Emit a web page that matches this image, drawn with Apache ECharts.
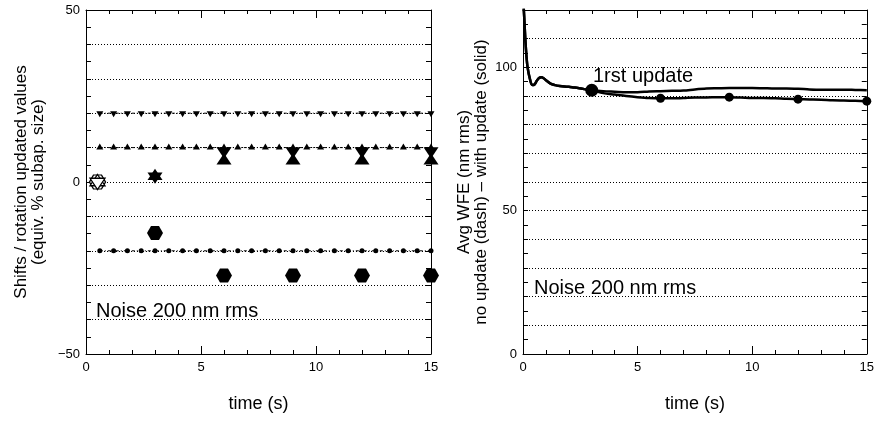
<!DOCTYPE html>
<html><head><meta charset="utf-8">
<script src="https://cdn.jsdelivr.net/npm/echarts@6/dist/echarts.min.js"></script>
<style>html,body{margin:0;padding:0;background:#fff}#c{width:877px;height:421px}</style>
</head><body><div id="c"></div>
<script>
// ---- Left panel data ----
const refTime = [0.6,1.2,1.8,2.4,3.0,3.6,4.2,4.8,5.4,6.0,6.6,7.2,7.8,8.4,9.0,9.6,10.2,10.8,11.4,12.0,12.6,13.2,13.8,14.4,15.0];
const refShiftX = [10,10,10,10,10,10,10,10,10,10,10,10,10,10,10,10,10,10,10,10,10,10,10,10,10];
const refShiftY = [20,20,20,20,20,20,20,20,20,20,20,20,20,20,20,20,20,20,20,20,20,20,20,20,20];
const refRot = [-20,-20,-20,-20,-20,-20,-20,-20,-20,-20,-20,-20,-20,-20,-20,-20,-20,-20,-20,-20,-20,-20,-20,-20,-20];
const updTime = [0.5, 3, 6, 9, 12, 15];
const estShiftX = [0, 1.7, 6.2, 6.2, 6.2, 6.2];
const estShiftY = [0, 1.7, 9.0, 9.0, 9.0, 9.0];
const estRot = [0, -14.8, -27.2, -27.2, -27.2, -27.2];

// ---- Right panel data ----
const wfeTimeEarly = [0,0.05,0.1,0.15,0.2,0.3,0.4,0.5,0.6,0.7,0.8,0.9,1.0,1.2,1.4,1.6,1.8,2.0,2.2,2.4,2.6,2.8];
const wfeEarly = [125,118,110,104,100,96,93.8,94,95.3,96.3,96.5,96.2,95.5,94.3,93.8,93.5,93.3,93.2,93.0,92.8,92.5,92.2];
const wfeTimeLate = [3.0,3.5,4.0,4.5,5.0,5.5,6.0,6.5,7.0,7.5,8.0,8.5,9.0,9.5,10,10.5,11,11.5,12,12.5,13,13.5,14,14.5,15];
const wfeNoUpdate = [92.0,91.7,91.5,91.3,91.3,91.6,91.7,91.8,91.9,92.3,92.6,92.7,92.8,92.8,92.8,92.7,92.6,92.6,92.5,92.3,92.2,92.2,92.2,92.1,92.0];
const wfeWithUpdate = [92.0,91.0,90.5,90.0,89.6,89.3,89.2,89.2,89.3,89.5,89.5,89.6,89.6,89.5,89.3,89.3,89.2,89.0,88.9,88.8,88.7,88.5,88.4,88.3,88.2];
const markTime = [3, 6, 9, 12, 15];
const markWfe = [92.0, 89.2, 89.6, 88.9, 88.2];

const FONT = "'Liberation Sans', Arial, Helvetica, sans-serif";
const zip = (xs, ys) => xs.map((x, i) => [x, ys[i]]);
const hexPath = 'path://M-1,0 L-0.5,-0.866 L0.5,-0.866 L1,0 L0.5,0.866 L-0.5,0.866 Z';
// triangles centred on their centroid (extra moveTo pads the bounding box)
const triUp = 'path://M0,1 M0,-1 L1,0.5 L-1,0.5 Z';
const triDown = 'path://M0,-1 M-1,-0.5 L1,-0.5 L0,1 Z';

function xAx(gi, pos, labels) {
  return {
    type: 'value', gridIndex: gi, position: pos, min: 0, max: 15, interval: 5,
    axisLine: {show: true, onZero: false, lineStyle: {color: '#000', width: 1}},
    axisTick: {show: true, inside: true, length: 8, lineStyle: {color: '#000'}},
    minorTick: {show: true, splitNumber: 5, length: 4, lineStyle: {color: '#000'}},
    axisLabel: {show: labels, color: '#000', fontFamily: FONT, fontSize: 13, margin: 7},
    splitLine: {show: false},
    name: labels ? 'time (s)' : '', nameLocation: 'middle', nameGap: 41,
    nameTextStyle: {color: '#000', fontFamily: FONT, fontSize: 18}
  };
}
function yAx(gi, pos, min, max, labels, shown, name, gap) {
  return {
    type: 'value', gridIndex: gi, position: pos, min: min, max: max, interval: 10,
    axisLine: {show: true, onZero: false, lineStyle: {color: '#000', width: 1}},
    axisTick: {show: true, inside: true, length: 5, lineStyle: {color: '#000'}},
    minorTick: {show: true, splitNumber: 2, length: 5, lineStyle: {color: '#000'}},
    axisLabel: {show: labels, color: '#000', fontFamily: FONT, fontSize: 13, margin: 6,
      formatter: v => shown.indexOf(v) >= 0 ? String(v).replace('-', '\u2212') : ''},
    splitLine: {show: labels, lineStyle: {color: '#000', type: [1, 2], width: 1}},
    name: name || '', nameLocation: 'middle', nameRotate: 90, nameGap: gap || 0,
    nameTextStyle: {color: '#000', fontFamily: FONT, fontSize: 17, lineHeight: 17}
  };
}

const chart = echarts.init(document.getElementById('c'), null, {renderer: 'canvas'});
const refLine = (xs, ys, sym) => ({
  type: 'line', xAxisIndex: 0, yAxisIndex: 0, data: zip(xs, ys),
  symbol: sym, symbolSize: sym === 'circle' ? 5 : [7, 8],
  itemStyle: {color: '#000', opacity: 1}, lineStyle: {color: '#000', width: 1, type: [3, 2, 1, 2]},
  z: 3, animation: false, silent: true
});
const estSeries = (ys, sym, size) => ({
  type: 'scatter', xAxisIndex: 0, yAxisIndex: 0,
  data: zip(updTime, ys).map((p, i) => i === 0
    ? {value: p, itemStyle: {color: '#fff', borderColor: '#000', borderWidth: 1.3, opacity: 1}}
    : {value: p}),
  symbol: sym, symbolSize: size,
  itemStyle: {color: '#000', opacity: 1}, z: 5, animation: false
});

chart.setOption({
  animation: false,
  backgroundColor: '#fff',
  grid: [
    {left: 86, top: 10, width: 345, height: 344, containLabel: false},
    {left: 523, top: 10, width: 345, height: 344, containLabel: false}
  ],
  xAxis: [xAx(0, 'bottom', true), xAx(0, 'top', false), xAx(1, 'bottom', true), xAx(1, 'top', false)],
  yAxis: [
    yAx(0, 'left', -50, 50, true, [-50, 0, 50], 'Shifts / rotation updated values\n(equiv. % subap. size)', 39),
    yAx(0, 'right', -50, 50, false, []),
    yAx(1, 'left', 0, 120, true, [0, 50, 100], 'Avg WFE (nm rms)\nno update (dash) \u2013 with update (solid)', 33),
    yAx(1, 'right', 0, 120, false, [])
  ],
  series: [
    refLine(refTime, refShiftY, triDown),
    refLine(refTime, refShiftX, triUp),
    refLine(refTime, refRot, 'circle'),
    estSeries(estRot, hexPath, [16, 14]),
    estSeries(estShiftX, triUp, [15, 15]),
    estSeries(estShiftY, triDown, [15, 15]),
    {
      type: 'line', xAxisIndex: 2, yAxisIndex: 2, name: 'no update',
      data: zip(wfeTimeEarly.concat(wfeTimeLate), wfeEarly.concat(wfeNoUpdate)),
      showSymbol: false, symbol: 'none', smooth: 0.3,
      lineStyle: {color: '#000', width: 2.5}, z: 3
    },
    {
      type: 'line', xAxisIndex: 2, yAxisIndex: 2, name: 'with update',
      data: zip(wfeTimeEarly.concat(wfeTimeLate), wfeEarly.concat(wfeWithUpdate)),
      showSymbol: false, symbol: 'none', smooth: 0.3,
      lineStyle: {color: '#000', width: 2.5}, z: 3
    },
    {
      type: 'scatter', xAxisIndex: 2, yAxisIndex: 2,
      data: zip(markTime, markWfe).map((p, i) => ({value: p, symbolSize: i === 0 ? 13 : 9})),
      symbol: 'circle', itemStyle: {color: '#000', opacity: 1}, z: 5
    }
  ],
  graphic: [
    {type: 'text', left: 96, top: 301, style: {text: 'Noise 200 nm rms', fill: '#000', font: '20px ' + FONT}, z: 10},
    {type: 'text', left: 534, top: 278, style: {text: 'Noise 200 nm rms', fill: '#000', font: '20px ' + FONT}, z: 10},
    {type: 'text', left: 593, top: 66, style: {text: '1rst update', fill: '#000', font: '20px ' + FONT}, z: 10}
  ]
});
</script></body></html>
